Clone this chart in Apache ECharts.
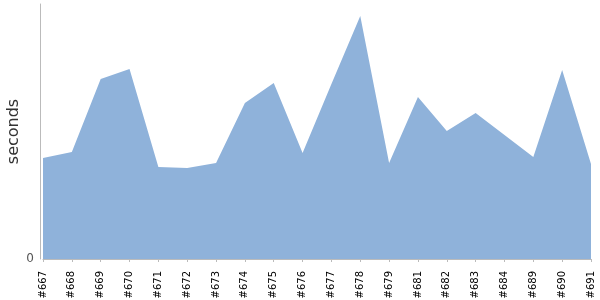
<!DOCTYPE html>
<html>
<head>
<meta charset="utf-8">
<script src="https://cdn.jsdelivr.net/npm/echarts@6/dist/echarts.min.js"></script>
<style>html,body{margin:0;padding:0;background:#fff}#c{width:600px;height:300px}</style>
</head>
<body>
<div id="c"></div>
<script>
var categories = ['#667','#668','#669','#670','#671','#672','#673','#674','#675','#676','#677','#678','#679','#681','#682','#683','#684','#689','#690','#691'];
var seconds = [101,107,180,190,92,91,96,156,176,106,175,243,96,162,128,146,124,102,189,95];

var chart = echarts.init(document.getElementById('c'), null, {renderer:'canvas'});
chart.setOption({
  animation: false,
  grid: {left: 43, right: 9, top: 4, bottom: 41, containLabel: false, outerBoundsMode: 'none'},
  xAxis: {
    type: 'category',
    data: categories,
    boundaryGap: false,
    offset: 4,
    axisLine: {lineStyle: {color: '#bbb', width: 1}},
    axisTick: {alignWithLabel: true, length: 3, lineStyle: {color: '#bbb'}},
    axisLabel: {rotate: 90, interval: 0, fontFamily: 'DejaVu Sans', fontSize: 10, color: '#000', margin: 8}
  },
  yAxis: {
    type: 'value',
    min: 0, max: 255, interval: 255,
    offset: 3,
    name: 'seconds',
    nameLocation: 'middle',
    nameGap: 18,
    nameMoveOverlap: false,
    nameTextStyle: {fontFamily: 'DejaVu Sans', fontSize: 16, color: '#333'},
    axisLine: {show: true, lineStyle: {color: '#bbb', width: 1}},
    axisTick: {show: false},
    splitLine: {show: false},
    axisLabel: {
      fontFamily: 'DejaVu Sans', fontSize: 12, color: '#555', margin: 6,
      formatter: function(v){ return v === 0 ? '0' : ''; }
    }
  },
  series: [{
    type: 'line',
    data: seconds,
    showSymbol: false,
    lineStyle: {width: 0, color: '#8fb2da'},
    itemStyle: {color: '#8fb2da'},
    areaStyle: {color: '#8fb2da', opacity: 1}
  }]
});
</script>
</body>
</html>
